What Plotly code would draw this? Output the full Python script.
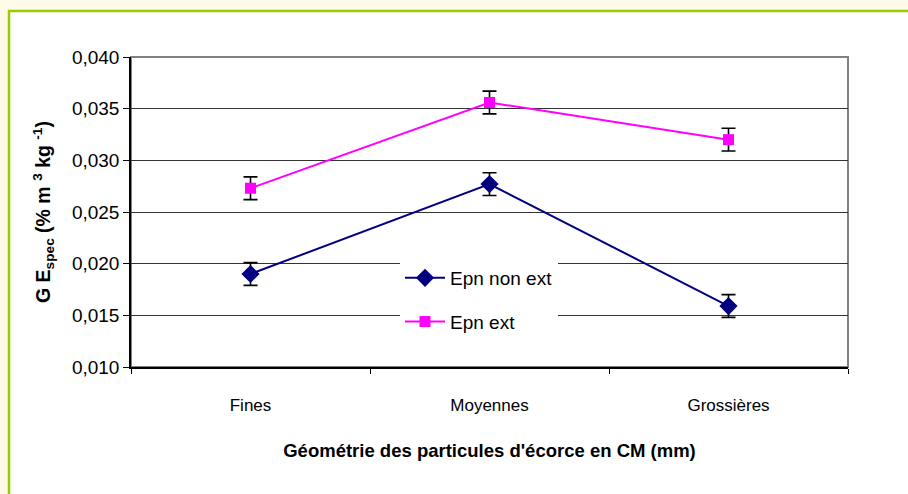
import plotly.graph_objects as go

categories = ["Fines", "Moyennes", "Grossières"]
epn_non_ext = [0.0190, 0.0277, 0.0159]
epn_non_ext_err = [0.0011, 0.0011, 0.0011]
epn_ext = [0.0273, 0.0356, 0.0320]
epn_ext_err = [0.0011, 0.0011, 0.0011]
y_ticks = [0.010, 0.015, 0.020, 0.025, 0.030, 0.035, 0.040]

FONT = "Liberation Sans, Arial, sans-serif"
CREAM = "#FFF9E8"

# plot area in pixels (908x494 page)
L, R, T, B = 131, 848, 57, 367
W, H = 908, 494
pw, ph = R - L, B - T

fig = go.Figure()

fig.add_trace(go.Scatter(
    x=categories, y=epn_non_ext, name="Epn non ext", legendgroup="a",
    mode="lines+markers",
    line=dict(color="#000080", width=2),
    marker=dict(symbol="diamond", size=14, color="#000080"),
    error_y=dict(type="data", array=epn_non_ext_err, color="black", thickness=1.6, width=7),
))
fig.add_trace(go.Scatter(
    x=categories, y=epn_ext, name="Epn ext", legendgroup="b",
    mode="lines+markers",
    line=dict(color="#FF00FF", width=2),
    marker=dict(symbol="square", size=11, color="#FF00FF"),
    error_y=dict(type="data", array=epn_ext_err, color="black", thickness=1.6, width=7),
))

# cream page with green framed white panel
fig.add_shape(type="rect", xref="paper", yref="paper", layer="below",
              x0=(9 - L) / pw, x1=(W + 20 - L) / pw,
              y0=(B - (H + 20)) / ph, y1=(B - 11) / ph,
              fillcolor="white", line=dict(color="#99CC00", width=2.5))
# gray plot-area frame (top/right visible)
fig.add_shape(type="rect", xref="paper", yref="paper", layer="below",
              x0=0, x1=1, y0=0, y1=1,
              fillcolor="white", line=dict(color="#808080", width=2))

fig.update_layout(
    width=W, height=H,
    margin=dict(l=L, r=W - R, t=T, b=H - B, autoexpand=False),
    paper_bgcolor=CREAM,
    plot_bgcolor="white",
    separators=", ",
    font=dict(family=FONT, color="black"),
    showlegend=True,
    legend=dict(x=(400 - L) / pw, y=(B - 259) / ph, xanchor="left", yanchor="top",
                bgcolor="white", font=dict(size=19, family=FONT),
                tracegroupgap=16, itemwidth=40),
)

fig.update_xaxes(
    type="category", range=[-0.5, 2.5],
    showline=True, linecolor="black", linewidth=1.5,
    ticks="outside", tickson="boundaries", ticklen=5, tickcolor="black",
    ticklabelstandoff=22,
    tickfont=dict(size=17, family=FONT),
    showgrid=False, zeroline=False,
    title=dict(text="<b>Géométrie des particules d'écorce en CM (mm)</b>",
               font=dict(size=18.5, family=FONT), standoff=30),
)
fig.update_yaxes(
    range=[0.010, 0.040], tickvals=y_ticks, tickformat=".3f",
    showline=True, linecolor="black", linewidth=1.5,
    ticks="outside", ticklen=6, tickcolor="black",
    tickfont=dict(size=19, family=FONT),
    showgrid=True, gridcolor="#333333", gridwidth=1, zeroline=False,
    title=dict(text="<b>G E<sub>spec</sub> (% m <sup>3</sup> kg <sup>-1</sup>)</b>",
               font=dict(size=19.5, family=FONT), standoff=16),
)

fig.write_html(
    "out.html",
    config={"displayModeBar": False},
    post_script=f"document.body.style.margin='0';document.body.style.background='{CREAM}';",
)
